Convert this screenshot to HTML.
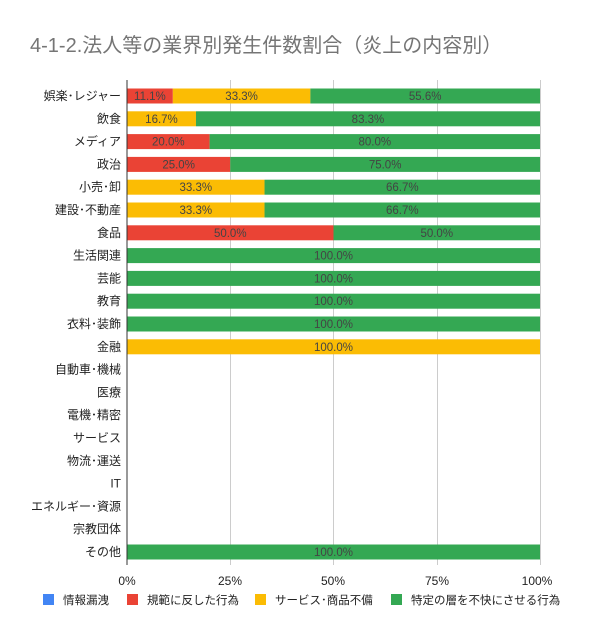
<!DOCTYPE html>
<html><head><meta charset="utf-8"><style>
body{margin:0;background:#fff;}
svg text{font-family:"Liberation Sans","Noto Sans CJK JP",sans-serif;}
</style></head><body>
<svg width="600" height="621" xmlns="http://www.w3.org/2000/svg">
<rect width="600" height="621" fill="#fff"/>
<text x="30" y="52" font-size="20" fill="#757575">4-1-2.法人等の業界別発生件数割合（炎上の内容別）</text>
<g stroke="#ccc" stroke-width="1">
<line x1="230.5" y1="80" x2="230.5" y2="565"/>
<line x1="333.5" y1="80" x2="333.5" y2="565"/>
<line x1="437.5" y1="80" x2="437.5" y2="565"/>
<line x1="540.5" y1="80" x2="540.5" y2="565"/>
</g>
<g id="bars" font-size="11.5" text-anchor="middle" fill="#444"></g>
<g id="labels" font-size="12" text-anchor="end" fill="#222"></g>
<line x1="127" y1="80" x2="127" y2="565" stroke="#333" stroke-width="1"/>
<g font-size="12" fill="#222" text-anchor="middle">
<text x="127" y="585">0%</text><text x="230" y="585">25%</text><text x="333" y="585">50%</text><text x="437" y="585">75%</text><text x="537" y="585">100%</text>
</g>
<g font-size="11.5" fill="#222">
<rect x="43" y="594" width="11" height="11" fill="#4285f4"/><text x="63" y="604">情報漏洩</text>
<rect x="127" y="594" width="11" height="11" fill="#ea4335"/><text x="147" y="604">規範に反した行為</text>
<rect x="255" y="594" width="11" height="11" fill="#fbbc04"/><text x="275" y="604">サービス･商品不備</text>
<rect x="391" y="594" width="11" height="11" fill="#34a853"/><text x="411" y="604">特定の層を不快にさせる行為</text>
</g>
<script>
var rows=[["娯楽･レジャー",[11.1,33.3,55.6]],["飲食",[0,16.7,83.3]],["メディア",[20,0,80]],["政治",[25,0,75]],["小売･卸",[0,33.3,66.7]],["建設･不動産",[0,33.3,66.7]],["食品",[50,0,50]],["生活関連",[0,0,100]],["芸能",[0,0,100]],["教育",[0,0,100]],["衣料･装飾",[0,0,100]],["金融",[0,100,0]],["自動車･機械",[0,0,0]],["医療",[0,0,0]],["電機･精密",[0,0,0]],["サービス",[0,0,0]],["物流･運送",[0,0,0]],["IT",[0,0,0]],["エネルギー･資源",[0,0,0]],["宗教団体",[0,0,0]],["その他",[0,0,100]]];
var cols=["#ea4335","#fbbc04","#34a853"],x0=127,W=413,ns="http://www.w3.org/2000/svg";
var B=document.getElementById("bars"),L=document.getElementById("labels");
rows.forEach(function(r,i){var cy=96+i*22.8;
var t=document.createElementNS(ns,"text");t.setAttribute("x",121);t.setAttribute("y",cy+4);t.textContent=r[0];L.appendChild(t);
var x=x0;r[1].forEach(function(v,j){if(!v)return;var w=W*v/100;
var rc=document.createElementNS(ns,"rect");rc.setAttribute("x",x);rc.setAttribute("y",cy-7.5);rc.setAttribute("width",w);rc.setAttribute("height",15);rc.setAttribute("fill",cols[j]);B.appendChild(rc);
var tt=document.createElementNS(ns,"text");tt.setAttribute("x",x+w/2);tt.setAttribute("y",cy+4);tt.textContent=v.toFixed(1)+"%";B.appendChild(tt);x+=w;});});
</script>
</svg>
</body></html>
